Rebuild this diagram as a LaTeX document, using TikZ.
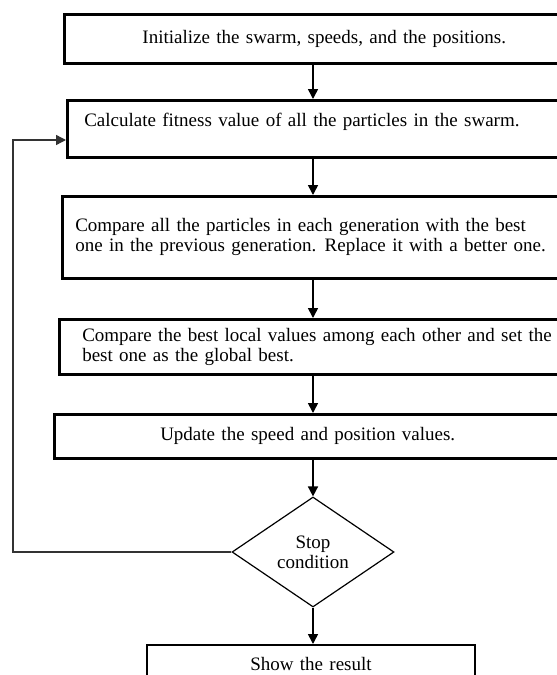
\documentclass[tikz,border=0pt]{standalone}
\usepackage{fontspec}
\setmainfont{Liberation Serif}
\usetikzlibrary{shapes.geometric,arrows.meta}
\begin{document}
\begin{tikzpicture}[x=1pt,y=-1pt,
  box/.style={draw, line width=2.5pt, rectangle, inner ysep=0pt, anchor=north west,
    font=\fontsize{19}{20}\selectfont},
  arr/.style={line width=1.6pt, -{Triangle[length=10pt,width=10pt]}},
  fb/.style={line width=1.4pt, draw=black!80, -{Triangle[length=10pt,width=10pt]}},
  dec/.style={draw, diamond, line width=1.2pt, inner sep=0pt, minimum width=162pt,
    minimum height=110pt, align=center, font=\fontsize{19}{20}\selectfont}]
\useasboundingbox (0,0) rectangle (557,675);
\clip (0,0) rectangle (557,675);
\fill[white] (0,0) rectangle (557,675);

\node[box, inner xsep=5pt, text width=510pt, align=center, minimum height=49pt] (b1) at (63,13)
  {Initialize the swarm, speeds, and the positions.};
\node[box, inner xsep=17pt, text width=500pt, align=left, minimum height=57pt,
  text height=13.5pt, text depth=18pt] (b2) at (66,99)
  {Calculate fitness value of all the particles in the swarm.};
\node[box, inner xsep=13pt, text width=513pt, align=left, minimum height=82pt] (b3) at (61,195)
  {Compare all the particles in each generation with the best\\one in the previous generation.\ \hspace{2pt}Replace it with a better one.};
\node[box, inner xsep=23pt, text width=496pt, align=left, minimum height=55pt] (b4) at (58,318)
  {Compare the best local values among each other and set the\\best one as the global best.};
\node[box, inner xsep=5pt, text width=497pt, align=center, minimum height=44pt] (b5) at (53,413)
  {Update the speed and position values.};
\node[dec] (d) at (313,552) {Stop\\condition};
\node[box, line width=2pt, inner xsep=5pt, text width=318pt, align=center, minimum height=38pt] (b6) at (146,644)
  {Show the result};

\coordinate (ax) at (313,0);
\draw[arr] (b1.south -| ax) -- (b2.north -| ax);
\draw[arr] (b2.south -| ax) -- (b3.north -| ax);
\draw[arr] (b3.south -| ax) -- (b4.north -| ax);
\draw[arr] (b4.south -| ax) -- (b5.north -| ax);
\draw[arr] (b5.south -| ax) -- (d.north);
\draw[arr] (d.south) -- (b6.north -| ax);

\coordinate (c2) at (13,140);
\draw[fb] (d.west) -| (c2) -- (c2 -| b2.west);
\end{tikzpicture}
\end{document}
